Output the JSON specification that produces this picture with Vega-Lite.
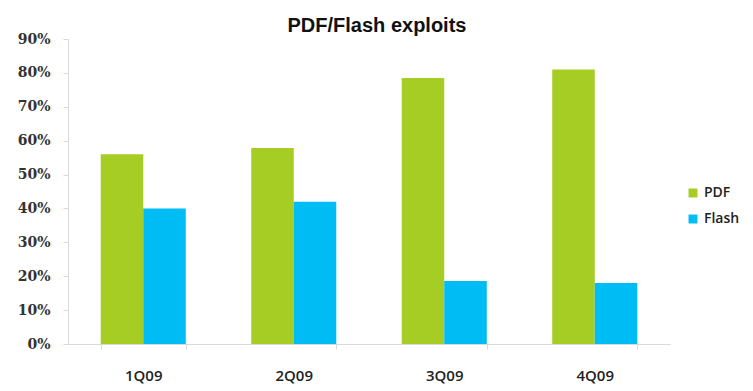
{
  "$schema": "https://vega.github.io/schema/vega-lite/v6.json",
  "width": 602,
  "height": 305,
  "autosize": "none",
  "padding": {"left": 68, "top": 39, "right": 83, "bottom": 47},
  "background": "white",
  "title": {
    "text": "PDF/Flash exploits",
    "font": "Liberation Sans",
    "fontSize": 20,
    "fontWeight": "bold",
    "color": "#111111",
    "anchor": "middle",
    "dx": 8,
    "offset": -4
  },
  "data": {
    "values": [
      {"quarter": "1Q09", "series": "PDF", "share": 0.56},
      {"quarter": "1Q09", "series": "Flash", "share": 0.40},
      {"quarter": "2Q09", "series": "PDF", "share": 0.578},
      {"quarter": "2Q09", "series": "Flash", "share": 0.42},
      {"quarter": "3Q09", "series": "PDF", "share": 0.785},
      {"quarter": "3Q09", "series": "Flash", "share": 0.186},
      {"quarter": "4Q09", "series": "PDF", "share": 0.81},
      {"quarter": "4Q09", "series": "Flash", "share": 0.18}
    ]
  },
  "mark": {"type": "bar"},
  "encoding": {
    "x": {
      "field": "quarter",
      "type": "nominal",
      "sort": ["1Q09", "2Q09", "3Q09", "4Q09"],
      "scale": {"paddingInner": 0.435, "paddingOuter": 0.2175},
      "axis": {
        "title": null,
        "labelAngle": 0,
        "labelFont": "Open Sans",
        "labelFontSize": 15,
        "labelFontWeight": 600,
        "labelColor": "#222222",
        "labelPadding": 19,
        "tickBand": "extent",
        "tickSize": 5,
        "tickColor": "#d9d9d9",
        "domainColor": "#d9d9d9",
        "grid": false
      }
    },
    "xOffset": {
      "field": "series",
      "type": "nominal",
      "sort": ["PDF", "Flash"]
    },
    "y": {
      "field": "share",
      "type": "quantitative",
      "scale": {"domain": [0, 0.9]},
      "axis": {
        "title": null,
        "values": [0, 0.1, 0.2, 0.3, 0.4, 0.5, 0.6, 0.7, 0.8, 0.9],
        "format": ".0%",
        "labelFont": "DejaVu Serif",
        "labelFontWeight": "bold",
        "labelFontSize": 14,
        "labelColor": "#333333",
        "labelPadding": 13,
        "tickSize": 5,
        "tickColor": "#d9d9d9",
        "domainColor": "#d9d9d9",
        "grid": false
      }
    },
    "color": {
      "field": "series",
      "type": "nominal",
      "sort": ["PDF", "Flash"],
      "scale": {"domain": ["PDF", "Flash"], "range": ["#a5cd23", "#00bcf5"]},
      "legend": {
        "title": null,
        "orient": "none",
        "legendX": 618,
        "legendY": 147,
        "symbolType": "square",
        "symbolSize": 80,
        "symbolStrokeWidth": 0,
        "labelFont": "Open Sans",
        "labelFontSize": 14,
        "labelFontWeight": 600,
        "labelColor": "#222222",
        "rowPadding": 12,
        "labelOffset": 4
      }
    }
  },
  "config": {"view": {"stroke": null}}
}
